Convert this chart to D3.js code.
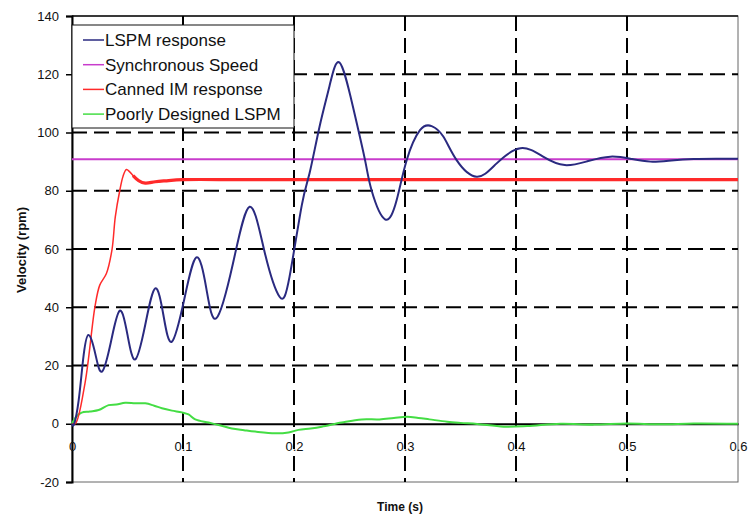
<!DOCTYPE html>
<html>
<head>
<meta charset="utf-8">
<script src="https://cdn.jsdelivr.net/npm/d3@7"></script>
<style>
  body { margin: 0; background: #fff; }
  svg { font-family: "Liberation Sans", Arial, sans-serif; }
</style>
</head>
<body>
<div id="chart"></div>
<script>
// values
const lspmT = [0, 0.002, 0.006, 0.010, 0.0147, 0.021, 0.027, 0.035, 0.043, 0.050, 0.057, 0.066, 0.075, 0.0825, 0.090, 0.101, 0.112, 0.121, 0.130, 0.145, 0.160, 0.1735, 0.187, 0.196, 0.207, 0.214, 0.223, 0.232, 0.241, 0.253, 0.264, 0.270, 0.282, 0.2925, 0.3015, 0.3135, 0.324, 0.3345, 0.3465, 0.3646, 0.3826, 0.404, 0.424, 0.444, 0.465, 0.485, 0.503, 0.521, 0.540, 0.560, 0.580, 0.600];
const lspmV = [0, 0, 8, 22, 30.5, 24, 17.9, 28, 38.8, 30.5, 22.1, 34, 46.5, 37, 28.2, 42.5, 57.1, 46.5, 36.2, 55, 74.5, 59, 43.6, 50.5, 75, 86, 102, 116, 124, 109, 90.5, 80, 70.2, 76.8, 90.5, 100.8, 102.2, 98.6, 90.5, 84.8, 89.4, 94.6, 91.8, 88.8, 90.2, 91.7, 91, 90, 90.4, 90.9, 91, 91];

const syncT = [0, 0.6];
const syncV = [90.8, 90.8];

const imT = [0, 0.003, 0.0117, 0.0207, 0.025, 0.031, 0.036, 0.039, 0.043, 0.046, 0.049, 0.052, 0.055, 0.060, 0.066, 0.075, 0.084, 0.100, 0.150, 0.200, 0.250, 0.300, 0.350, 0.400, 0.450, 0.500, 0.550, 0.600];
const imV = [0, 0, 13.9, 40.2, 47.6, 51.6, 59.7, 71, 80, 85, 87.3, 86.5, 85.2, 83.5, 82.6, 83.1, 83.4, 83.8, 83.8, 83.8, 83.8, 83.8, 83.8, 83.8, 83.8, 83.8, 83.8, 83.8];

const poorT = [0, 0.004, 0.0087, 0.016, 0.024, 0.033, 0.040, 0.048, 0.057, 0.066, 0.074, 0.081, 0.090, 0.099, 0.105, 0.111, 0.123, 0.133, 0.144, 0.155, 0.165, 0.183, 0.195, 0.204, 0.215, 0.225, 0.243, 0.261, 0.277, 0.290, 0.302, 0.312, 0.322, 0.338, 0.350, 0.365, 0.389, 0.410, 0.440, 0.470, 0.500, 0.530, 0.560, 0.600];
const poorV = [0, 2.5, 3.8, 4.2, 4.7, 6.4, 6.6, 7.2, 7.0, 7.0, 6.2, 5.3, 4.5, 3.9, 3.2, 1.5, 0.4, -0.5, -1.6, -2.2, -2.7, -3.3, -3.0, -2.1, -1.6, -1.0, 0.4, 1.5, 1.5, 2.0, 2.4, 2.0, 1.5, 0.7, 0.3, -0.1, -1.0, -0.8, 0, -0.3, 0.1, -0.2, 0.1, 0];

const xTicks = [0, 0.1, 0.2, 0.3, 0.4, 0.5, 0.6];
const yTicks = [-20, 0, 20, 40, 60, 80, 100, 120, 140];
const legendNames = ["LSPM response", "Synchronous Speed", "Canned IM response", "Poorly Designed LSPM"];
const legendColors = ["#2a2a80", "#c83ccc", "#ff2a2a", "#44dd44"];

const width = 751, height = 516;
const x = d3.scaleLinear().domain([0, 0.6]).range([72, 738]);
const y = d3.scaleLinear().domain([-20, 140]).range([482, 16]);

const svg = d3.select('#chart').append('svg')
  .attr('width', width)
  .attr('height', height);

// frame
svg.append('rect')
  .attr('x', x(0)).attr('y', y(140))
  .attr('width', x(0.6) - x(0)).attr('height', y(-20) - y(140))
  .attr('fill', 'none').attr('stroke', '#666').attr('stroke-width', 1);
svg.append('line')
  .attr('x1', x(0)).attr('x2', x(0.6)).attr('y1', y(140)).attr('y2', y(140))
  .attr('stroke', '#111').attr('stroke-width', 1.5);

// dashed grid
svg.append('g').selectAll('line')
  .data(yTicks.filter(d => d > 0 && d < 140))
  .join('line')
  .attr('x1', x(0)).attr('x2', x(0.6))
  .attr('y1', d => y(d)).attr('y2', d => y(d))
  .attr('stroke', '#000').attr('stroke-width', 2)
  .attr('stroke-dasharray', '15,7');
svg.append('g').selectAll('line')
  .data(xTicks.filter(d => d > 0 && d < 0.6))
  .join('line')
  .attr('x1', d => x(d)).attr('x2', d => x(d))
  .attr('y1', y(140)).attr('y2', y(-20))
  .attr('stroke', '#000').attr('stroke-width', 2)
  .attr('stroke-dasharray', '15,7');

// y axis
const yAxis = d3.axisLeft(y).tickValues(yTicks).tickSize(6).tickPadding(7).tickFormat(d => String(d));
const gy = svg.append('g')
  .attr('transform', `translate(${x(0)},0)`)
  .call(yAxis);
gy.select('.domain').attr('stroke', '#000').attr('stroke-width', 2);
gy.selectAll('.tick line').attr('stroke', '#000').attr('stroke-width', 1.5);
gy.selectAll('text').attr('font-size', 13).attr('fill', '#111')
  .attr('font-family', '"Liberation Sans", Arial, sans-serif');

// x axis along zero
const xAxis = d3.axisBottom(x).tickValues(xTicks).tickSize(0).tickPadding(18).tickFormat(d3.format('.1~f'));
const gx = svg.append('g')
  .attr('transform', `translate(0,${y(0)})`)
  .call(xAxis);
gx.select('.domain').attr('stroke', '#000').attr('stroke-width', 2);
gx.selectAll('text').attr('font-size', 13).attr('fill', '#111')
  .attr('font-family', '"Liberation Sans", Arial, sans-serif');

// series
const smooth = d3.line().x(d => x(d[0])).y(d => y(d[1])).curve(d3.curveCatmullRom.alpha(0.5));
const wave = d3.line().x(d => x(d[0])).y(d => y(d[1])).curve(d3.curveNatural);
const zip = (a, b) => a.map((t, i) => [t, b[i]]);

svg.append('path').datum(zip(poorT, poorV))
  .attr('d', smooth).attr('fill', 'none')
  .attr('stroke', legendColors[3]).attr('stroke-width', 2);
svg.append('path').datum(zip(imT, imV))
  .attr('d', smooth).attr('fill', 'none')
  .attr('stroke', legendColors[2]).attr('stroke-width', 1.5);
svg.append('path').datum(zip(imT, imV).filter(d => d[0] >= 0.055))
  .attr('d', smooth).attr('fill', 'none')
  .attr('stroke', legendColors[2]).attr('stroke-width', 3.2);
svg.append('path').datum(zip(syncT, syncV))
  .attr('d', smooth).attr('fill', 'none')
  .attr('stroke', legendColors[1]).attr('stroke-width', 2);
svg.append('path').datum(zip(lspmT, lspmV))
  .attr('d', wave).attr('fill', 'none')
  .attr('stroke', legendColors[0]).attr('stroke-width', 2);

// legend
const lg = svg.append('g');
lg.append('rect')
  .attr('x', 72).attr('y', 25).attr('width', 222).attr('height', 103)
  .attr('fill', '#fff').attr('stroke', '#111').attr('stroke-width', 1);
legendNames.forEach((name, i) => {
  const cy = 40 + i * 24.7;
  lg.append('line')
    .attr('x1', 83).attr('x2', 104).attr('y1', cy).attr('y2', cy)
    .attr('stroke', legendColors[i]).attr('stroke-width', 1.5);
  lg.append('text')
    .attr('x', 105).attr('y', cy + 6)
    .attr('font-size', 17).attr('fill', '#111')
    .text(name);
});

// axis titles
svg.append('text')
  .attr('x', 400).attr('y', 511)
  .attr('text-anchor', 'middle')
  .attr('font-size', 12).attr('font-weight', 'bold').attr('fill', '#111')
  .text('Time (s)');
svg.append('text')
  .attr('transform', 'translate(26,250) rotate(-90)')
  .attr('text-anchor', 'middle')
  .attr('font-size', 13).attr('font-weight', 'bold').attr('fill', '#111')
  .text('Velocity (rpm)');
</script>
</body>
</html>
